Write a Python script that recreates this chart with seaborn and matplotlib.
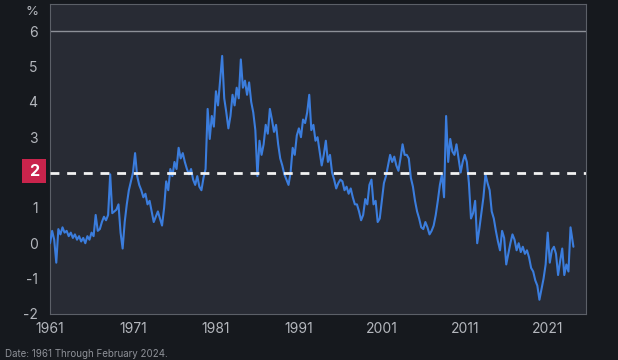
import matplotlib
matplotlib.use("Agg")
import matplotlib.pyplot as plt
import seaborn as sns
import pandas as pd
import numpy as np
from matplotlib.patches import FancyBboxPatch

# quarterly readings, one row of four per year (1961 .. 2023), then Feb 2024
start_year = 1961
vals_by_year = [
    [0.0, 0.35, 0.1, -0.55],    # 1961
    [0.4, 0.25, 0.45, 0.3],
    [0.35, 0.2, 0.3, 0.15],
    [0.25, 0.1, 0.2, 0.05],
    [0.15, 0.0, 0.2, 0.1],
    [0.3, 0.2, 0.8, 0.35],      # 1966
    [0.4, 0.6, 0.75, 0.65],
    [0.8, 1.95, 0.85, 0.9],
    [0.95, 1.1, 0.3, -0.15],
    [0.6, 1.1, 1.5, 1.75],
    [2.0, 2.55, 1.9, 1.65],     # 1971
    [1.5, 1.3, 1.4, 1.1],
    [1.2, 0.9, 0.6, 0.75],
    [0.9, 0.7, 0.5, 1.0],
    [1.75, 1.5, 2.1, 1.9],
    [2.3, 2.1, 2.7, 2.4],       # 1976
    [2.55, 2.3, 2.1, 1.95],
    [2.1, 1.8, 1.65, 1.9],
    [1.6, 1.5, 1.85, 2.1],
    [3.8, 2.95, 3.6, 3.3],
    [4.3, 3.9, 4.6, 5.3],       # 1981
    [4.1, 3.7, 3.25, 3.6],
    [4.2, 3.9, 4.4, 4.1],
    [5.2, 4.4, 4.6, 4.2],
    [4.55, 4.0, 3.7, 3.2],
    [1.9, 2.9, 2.5, 2.8],       # 1986
    [3.35, 3.1, 3.8, 3.5],
    [3.15, 3.35, 2.8, 2.4],
    [2.2, 1.95, 1.8, 1.65],
    [2.0, 2.7, 2.5, 3.05],
    [3.25, 3.0, 3.5, 3.4],      # 1991
    [3.7, 4.2, 3.2, 3.35],
    [2.9, 3.0, 2.6, 2.2],
    [2.5, 2.9, 2.3, 2.5],
    [2.0, 1.8, 1.55, 1.7],
    [1.8, 1.75, 1.5, 1.6],      # 1996
    [1.4, 1.55, 1.3, 1.1],
    [1.1, 0.9, 0.65, 0.8],
    [1.25, 1.1, 1.65, 1.8],
    [1.1, 1.2, 0.6, 0.7],
    [1.2, 1.7, 1.9, 2.2],       # 2001
    [2.5, 2.3, 2.45, 2.2],
    [2.05, 2.4, 2.8, 2.5],
    [2.5, 2.4, 1.85, 1.6],
    [1.2, 0.9, 0.7, 0.45],
    [0.4, 0.6, 0.45, 0.25],     # 2006
    [0.35, 0.5, 0.8, 1.2],
    [1.65, 1.95, 1.3, 3.6],
    [2.3, 2.95, 2.6, 2.5],
    [2.8, 2.4, 2.0, 2.3],
    [2.5, 2.3, 1.7, 0.7],       # 2011
    [0.85, 1.2, 0.0, 0.4],
    [0.85, 1.3, 1.95, 1.7],
    [1.5, 0.9, 0.7, 0.35],
    [0.05, -0.2, 0.35, 0.15],
    [-0.6, -0.3, 0.0, 0.25],    # 2016
    [0.1, -0.2, 0.0, -0.25],
    [-0.1, -0.3, -0.2, -0.4],
    [-0.7, -0.8, -1.05, -1.2],
    [-1.6, -1.3, -1.0, -0.6],
    [0.3, -0.55, -0.2, -0.1],   # 2021
    [-0.3, -0.9, -0.5, -0.15],
    [-0.9, -0.6, -0.8, 0.45],
]
last_value = -0.1  # Feb 2024

y_ticks = [-2, -1, 0, 1, 2, 3, 4, 5, 6]
x_ticks = [1961, 1971, 1981, 1991, 2001, 2011, 2021]
target = 2

rows = []
for i, yr in enumerate(vals_by_year):
    for q, v in enumerate(yr):
        rows.append({"t": start_year + i + q * 0.25, "v": v})
rows.append({"t": 2024.1, "v": last_value})
df = pd.DataFrame(rows)

fig_bg = "#16191e"
ax_bg = "#282b34"
txt = "#b4b7bd"

sns.set_style("dark")
plt.rcParams["font.family"] = ["Inter", "DejaVu Sans"]

fig = plt.figure(figsize=(6.18, 3.6), dpi=100, facecolor=fig_bg)
ax = fig.add_axes([0.081, 0.128, 0.867, 0.861])
ax.set_facecolor(ax_bg)

ax.axhline(6, color="#8d9098", lw=1.0, zorder=1)
sns.lineplot(data=df, x="t", y="v", ax=ax, color="#3b7ddd", lw=1.5, zorder=3)
ax.axhline(target, color="#f2f2f2", lw=2, ls=(0, (3.2, 2.8)), zorder=4)

ax.set_xlim(1961, 2025.6)
ax.set_ylim(-2, 6.77)
ax.set_xticks(x_ticks)
ax.set_xticklabels([str(x) for x in x_ticks])
ax.set_yticks(y_ticks)
ax.set_yticklabels(["" if t == target else str(t) for t in y_ticks])
ax.tick_params(colors=txt, labelsize=10, length=0, pad=9)
ax.tick_params(axis="x", pad=6)
ax.grid(False)
ax.set_xlabel("")
ax.set_ylabel("")
for s in ax.spines.values():
    s.set_visible(True)
    s.set_color("#5c6068")
    s.set_linewidth(0.8)

# red target badge
box = FancyBboxPatch((22 / 618, 1 - 183 / 360), 24 / 618, 24 / 360,
                     boxstyle="square,pad=0", transform=fig.transFigure,
                     facecolor="#c9244c", edgecolor="none")
fig.patches.append(box)
fig.text(34 / 618, 1 - 171 / 360, "2", color="white", fontsize=11.5,
         fontweight="bold", ha="center", va="center")
fig.text(32 / 618, 1 - 12 / 360, "%", color=txt, fontsize=9.5, ha="center", va="center")
fig.text(5 / 618, 1 - 354 / 360, "Date: 1961 Through February 2024.", color="#8e9198",
         fontsize=7, ha="left", va="center")

fig.savefig("out.png", dpi=100, facecolor=fig_bg)
